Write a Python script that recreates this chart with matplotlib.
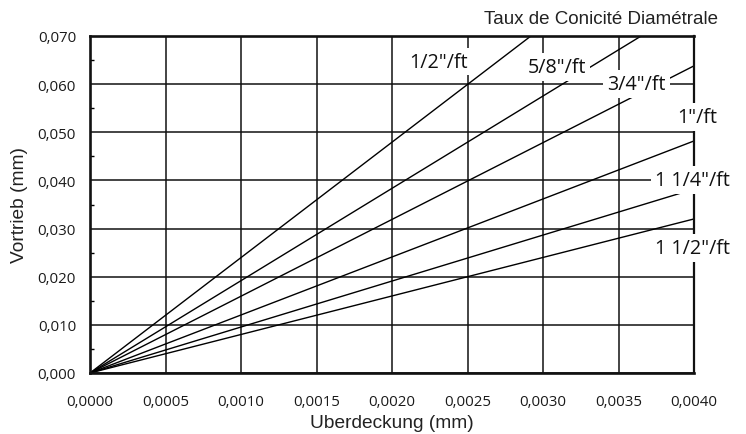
import matplotlib
matplotlib.use("Agg")
import matplotlib.pyplot as plt
from matplotlib.ticker import MultipleLocator, FuncFormatter

# ---- data ----
tapers = ['1/2"/ft', '5/8"/ft', '3/4"/ft', '1"/ft', '1 1/4"/ft', '1 1/2"/ft']
x_start = [0.0, 0.0, 0.0, 0.0, 0.0, 0.0]
y_start = [0.0, 0.0, 0.0, 0.0, 0.0, 0.0]
x_end = [0.00292, 0.00365, 0.0040, 0.0040, 0.0040, 0.0040]
y_end = [0.070, 0.070, 0.0638, 0.0482, 0.0382, 0.0320]
label_x = [0.00231, 0.00309, 0.00362, 0.00402, 0.00399, 0.00399]
label_y = [0.0647, 0.0636, 0.0601, 0.0532, 0.0401, 0.0260]
x_ticks = [0.0, 0.0005, 0.0010, 0.0015, 0.0020, 0.0025, 0.0030, 0.0035, 0.0040]
y_ticks = [0.0, 0.010, 0.020, 0.030, 0.040, 0.050, 0.060, 0.070]
title = "Taux de Conicité Diamétrale"
xlabel = "Uberdeckung (mm)"
ylabel = "Vortrieb (mm)"

fig = plt.figure(figsize=(7.46, 4.35), dpi=100)
ax = fig.add_axes([90/746, 1-374/435, (694-90)/746, (374-37)/435])

for xs, ys, xe, ye in zip(x_start, y_start, x_end, y_end):
    ax.plot([xs, xe], [ys, ye], color="#000000", lw=1.0, zorder=2,
            solid_capstyle="butt")

ax.set_xlim(0, 0.0040)
ax.set_ylim(0, 0.070)
ax.set_xticks(x_ticks)
ax.set_yticks(y_ticks)
ax.yaxis.set_minor_locator(MultipleLocator(0.005))
ax.xaxis.set_major_formatter(FuncFormatter(lambda v, p: f"{v:.4f}".replace(".", ",")))
ax.yaxis.set_major_formatter(FuncFormatter(lambda v, p: f"{v:.3f}".replace(".", ",")))
ax.grid(True, which="major", color="#111111", lw=1.1, zorder=1)
ax.set_axisbelow(True)
ax.tick_params(axis="both", which="major", length=0, labelsize=10.8)
ax.tick_params(axis="x", which="major", pad=15)
ax.tick_params(axis="y", which="major", pad=10)
ax.tick_params(axis="y", which="minor", direction="in", length=3, width=1.0, left=True, right=False)
ax.tick_params(axis="x", which="minor", length=0)
for lab in ax.get_xticklabels() + ax.get_yticklabels():
    lab.set_fontfamily("Open Sans")
    lab.set_color("#1a1a1a")

for side in ["left", "bottom", "top"]:
    ax.spines[side].set_linewidth(1.9)
    ax.spines[side].set_color("#111111")
ax.spines["right"].set_linewidth(1.6)
ax.spines["right"].set_color("#111111")

for t, lx, ly in zip(tapers, label_x, label_y):
    ax.text(lx, ly, t, ha="center", va="center", fontsize=14.2,
            fontfamily="Open Sans", color="#111111", zorder=5, clip_on=False,
            bbox=dict(boxstyle="square,pad=0.2", fc="white", ec="none"))

fig.text(601/746, 1-20/435, title, ha="center", va="center", fontsize=13.5,
         fontfamily="Liberation Sans", color="#222222")
fig.text(392/746, 1-424/435, xlabel, ha="center", va="center", fontsize=13.8,
         fontfamily="Liberation Sans", color="#222222")
fig.text(20/746, 1-205/435, ylabel, ha="center", va="center", fontsize=13.8,
         rotation=90, fontfamily="Liberation Sans", color="#222222")

fig.savefig("out.png", dpi=100)
